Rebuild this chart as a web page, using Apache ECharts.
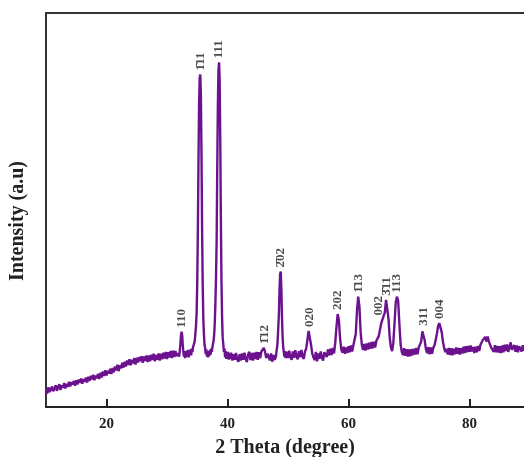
<!DOCTYPE html>
<html>
<head>
  <meta charset="utf-8">
  <script src="https://cdn.jsdelivr.net/npm/echarts@6/dist/echarts.min.js"></script>
  <style>
    html, body {margin: 0; padding: 0; background: #ffffff;}
  </style>
</head>
<body>
<div id="xrdChart" style="width: 524px;height: 457px;"></div>
<script>
  // scan segments: start angle, step, intensities
  var scanLow = {from: 10, step: 0.2, values: [
    46, 34, 50, 38, 44, 52, 40, 47, 55, 41,
    50, 58, 43, 55, 49, 61, 47, 59, 51, 64,
    52, 63, 57, 66, 54, 68, 57, 70, 61, 72,
    59, 71, 64, 75, 62, 77, 66, 79, 70, 82,
    68, 80, 73, 84, 71, 87, 75, 90, 79, 93,
    80, 92, 85, 97, 84, 99, 88, 103, 93, 107,
    91, 106, 98, 112, 100, 115, 103, 118, 107, 121,
    106, 120, 111, 124, 108, 125, 113, 127, 116, 129,
    112, 128, 117, 131, 114, 131, 116, 133, 119, 135,
    116, 132, 120, 136, 118, 135, 121, 138, 123, 140,
    122, 139, 126, 142, 124, 143, 127, 142, 129, 137
  ]};
  var scanMain = {from: 32, step: 0.1, values: [
    128, 140, 158, 180, 191, 184, 158, 140, 128, 142,
    124, 139, 127, 143, 130, 145, 126, 141, 133, 146,
    131, 148, 139, 152, 150, 162, 170, 188, 208, 242,
    320, 450, 620, 770, 835, 844, 790, 640, 450, 310,
    225, 185, 158, 150, 134, 146, 128, 142, 126, 140,
    130, 145, 133, 148, 140, 152, 155, 168, 185, 215,
    265, 330, 420, 600, 760, 855, 875, 830, 680, 480,
    320, 228, 176, 160, 140, 148, 126, 142, 122, 138,
    124, 140, 120, 136
  ]};
  var scanMid = {from: 40.4, step: 0.2, values: [
    122, 138, 118, 134, 120, 137, 121, 115, 134, 118,
    136, 120, 138, 122, 114, 133, 140, 119, 137, 118,
    138, 122, 140, 120, 139, 124, 141, 137, 150, 140,
    124, 135, 128, 118, 136, 115, 132, 120
  ]};
  var scan202 = {from: 48, step: 0.1, values: [
    128, 142, 152, 172, 205, 240, 300, 338, 344, 300,
    230, 180, 152, 140, 128, 142, 124
  ]};
  var scanHigh = {from: 49.8, step: 0.2, values: [
    140, 124, 143, 127, 120, 141, 125, 144, 128, 121,
    142, 126, 145, 129, 122, 141, 148, 170, 193, 188,
    158, 136, 126, 119, 140, 116, 136, 122, 141, 125,
    118, 139, 144, 127, 146, 131, 148, 132, 150, 136,
    162, 202, 236, 222, 175, 146, 138, 153, 135, 151,
    137, 154, 139, 156, 141, 157, 160, 186, 245, 280,
    255, 190, 158, 145, 160, 143, 161, 146, 163, 148,
    165, 149, 166, 151, 168, 170, 180, 196, 212, 222,
    226, 240, 272, 268, 225, 178, 152, 142, 162, 212,
    265, 280, 270, 212, 160, 140, 132, 149, 130, 147,
    128, 146, 129, 147, 131, 148, 133, 150, 134, 151,
    152, 166, 192, 196, 168, 146, 137, 152, 134, 151,
    135, 150, 156, 170, 186, 205, 213, 210, 190, 166,
    150, 139, 148, 133, 150, 132, 149, 131, 148, 134,
    151, 135, 150, 133, 149, 136, 153, 137, 154, 139,
    155, 140, 156, 141, 152, 137, 153, 139, 155, 142,
    158, 162, 170, 168, 178, 166, 179, 166, 162, 150,
    154, 140, 157, 139, 155, 138, 154, 137, 156, 139,
    158, 142, 159, 140, 152, 164, 145, 141, 157, 140,
    156, 139, 154, 158, 141, 157, 143, 159, 144, 160,
    146, 156
  ]};

  // reflections: angle, height of the label foot, hkl (combining macron = negative index)
  var peakAngles = [32.5, 35.5, 38.6, 46.1, 48.8, 53.5, 58.2, 61.6, 65.0, 66.3, 68.0, 72.4, 75.1];
  var peakHeights = [191, 844, 875, 150, 344, 193, 236, 280, 222, 272, 280, 196, 213];
  var peakNames = ['110', '1\u030411', '111', '1\u030412', '2\u030402', '020', '202', '1\u030413',
    '002', '3\u030411', '113', '311', '004'];

  var xTicks = [20, 40, 60, 80];

  function toPoints(seg) {
    let pts = [];
    for (let i = 0; i < seg.values.length; i++) {
      pts.push([Math.round((seg.from + i * seg.step) * 10) / 10, seg.values[i]]);
    }
    return pts;
  }

  let pattern = [].concat(toPoints(scanLow), toPoints(scanMain), toPoints(scanMid),
    toPoints(scan202), toPoints(scanHigh));

  let labelData = [];
  for (let i = 0; i < peakAngles.length; i++) {
    labelData.push({value: [peakAngles[i], peakHeights[i]], name: peakNames[i]});
  }

  let serif = '"Liberation Serif", "DejaVu Serif", serif';
  let myChart = echarts.init(document.getElementById('xrdChart'));

  myChart.setOption({
    animation: false,
    backgroundColor: '#ffffff',
    grid: {
      left: 46,
      top: 13,
      right: 0,
      bottom: 50,
      outerBoundsMode: 'none'
    },
    xAxis: [{
      type: 'value',
      min: 10,
      max: 89,
      name: '2 Theta (degree)',
      nameLocation: 'middle',
      nameGap: 31,
      nameTextStyle: {
        fontFamily: serif,
        fontWeight: 'bold',
        fontSize: 20,
        color: '#222'
      },
      axisLine: {
        show: true,
        lineStyle: {color: '#222', width: 2}
      },
      axisTick: {
        show: true,
        inside: true,
        length: 8,
        customValues: xTicks,
        lineStyle: {color: '#222', width: 2}
      },
      axisLabel: {
        customValues: xTicks,
        margin: 10,
        fontFamily: serif,
        fontWeight: 'bold',
        fontSize: 15,
        color: '#222'
      },
      splitLine: {show: false}
    }, {
      // top frame line only
      type: 'value',
      position: 'top',
      min: 10,
      max: 89,
      axisLine: {
        show: true,
        lineStyle: {color: '#333', width: 2}
      },
      axisTick: {show: false},
      axisLabel: {show: false},
      splitLine: {show: false}
    }],
    yAxis: {
      type: 'value',
      min: 0,
      max: 1000,
      name: 'Intensity (a.u)',
      nameLocation: 'middle',
      nameGap: 18,
      nameTextStyle: {
        fontFamily: serif,
        fontWeight: 'bold',
        fontSize: 20,
        color: '#222',
        padding: [0, 0, 0, -22]
      },
      axisLine: {
        show: true,
        lineStyle: {color: '#333', width: 2}
      },
      axisTick: {show: false},
      axisLabel: {show: false},
      splitLine: {show: false}
    },
    series: [{
      name: 'pattern',
      type: 'line',
      showSymbol: false,
      data: pattern,
      lineStyle: {
        color: '#6c128f',
        width: 2.4
      }
    }, {
      name: 'hkl',
      type: 'scatter',
      symbolSize: 0,
      data: labelData,
      label: {
        show: true,
        position: 'top',
        distance: 4,
        rotate: 90,
        align: 'left',
        verticalAlign: 'middle',
        formatter: '{b}',
        fontFamily: serif,
        fontWeight: 'bold',
        fontSize: 13,
        color: '#1a1a1a'
      }
    }]
  });
</script>
</body>
</html>
